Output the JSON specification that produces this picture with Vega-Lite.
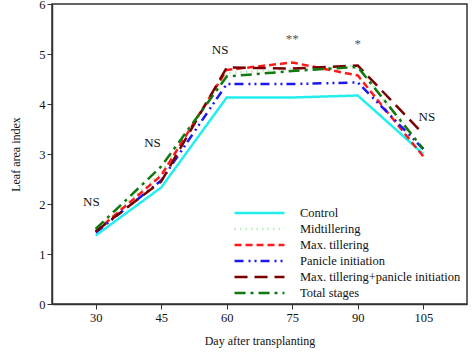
{
  "$schema": "https://vega.github.io/schema/vega-lite/v6.json",
  "width": 415,
  "height": 300,
  "autosize": "none",
  "padding": {"left": 52, "top": 4, "right": 5, "bottom": 54},
  "config": {
    "font": "Liberation Serif",
    "view": {"stroke": "#333333", "strokeWidth": 1.5},
    "axis": {"grid": false, "domainColor": "#333333", "tickColor": "#333333", "labelColor": "#111111", "titleColor": "#111111", "labelFont": "Liberation Serif", "titleFont": "Liberation Serif", "labelFontSize": 12.5, "titleFontSize": 12, "titleFontWeight": "normal", "tickSize": 5, "domainWidth": 1.5},
    "legend": {"labelFont": "Liberation Serif", "labelFontSize": 12.5, "labelColor": "#111111", "titleFont": "Liberation Serif", "labelLimit": 0}
  },
  "datasets": {
    "lines": [
      {"day": 30, "lai": 1.37, "treatment": "Control"},
      {"day": 45, "lai": 2.33, "treatment": "Control"},
      {"day": 60, "lai": 4.13, "treatment": "Control"},
      {"day": 75, "lai": 4.13, "treatment": "Control"},
      {"day": 90, "lai": 4.17, "treatment": "Control"},
      {"day": 105, "lai": 3.0, "treatment": "Control"},
      {"day": 30, "lai": 1.48, "treatment": "Midtillering"},
      {"day": 45, "lai": 2.62, "treatment": "Midtillering"},
      {"day": 60, "lai": 4.62, "treatment": "Midtillering"},
      {"day": 75, "lai": 4.7, "treatment": "Midtillering"},
      {"day": 90, "lai": 4.76, "treatment": "Midtillering"},
      {"day": 105, "lai": 3.05, "treatment": "Midtillering"},
      {"day": 30, "lai": 1.45, "treatment": "Max. tillering"},
      {"day": 45, "lai": 2.57, "treatment": "Max. tillering"},
      {"day": 60, "lai": 4.68, "treatment": "Max. tillering"},
      {"day": 75, "lai": 4.83, "treatment": "Max. tillering"},
      {"day": 90, "lai": 4.57, "treatment": "Max. tillering"},
      {"day": 105, "lai": 2.95, "treatment": "Max. tillering"},
      {"day": 30, "lai": 1.43, "treatment": "Panicle initiation"},
      {"day": 45, "lai": 2.47, "treatment": "Panicle initiation"},
      {"day": 60, "lai": 4.4, "treatment": "Panicle initiation"},
      {"day": 75, "lai": 4.4, "treatment": "Panicle initiation"},
      {"day": 90, "lai": 4.43, "treatment": "Panicle initiation"},
      {"day": 105, "lai": 3.1, "treatment": "Panicle initiation"},
      {"day": 30, "lai": 1.45, "treatment": "Max. tillering+panicle initiation"},
      {"day": 45, "lai": 2.45, "treatment": "Max. tillering+panicle initiation"},
      {"day": 60, "lai": 4.73, "treatment": "Max. tillering+panicle initiation"},
      {"day": 75, "lai": 4.71, "treatment": "Max. tillering+panicle initiation"},
      {"day": 90, "lai": 4.77, "treatment": "Max. tillering+panicle initiation"},
      {"day": 105, "lai": 3.4, "treatment": "Max. tillering+panicle initiation"},
      {"day": 30, "lai": 1.5, "treatment": "Total stages"},
      {"day": 45, "lai": 2.75, "treatment": "Total stages"},
      {"day": 60, "lai": 4.55, "treatment": "Total stages"},
      {"day": 75, "lai": 4.66, "treatment": "Total stages"},
      {"day": 90, "lai": 4.74, "treatment": "Total stages"},
      {"day": 105, "lai": 3.1, "treatment": "Total stages"}
    ],
    "notes": [
      {"day": 29, "lai": 2.04, "label": "NS", "kind": "ns"},
      {"day": 43, "lai": 3.22, "label": "NS", "kind": "ns"},
      {"day": 58.5, "lai": 5.08, "label": "NS", "kind": "ns"},
      {"day": 75, "lai": 5.3, "label": "**", "kind": "star"},
      {"day": 90, "lai": 5.2, "label": "*", "kind": "star"},
      {"day": 105.8, "lai": 3.74, "label": "NS", "kind": "ns"}
    ]
  },
  "layer": [
    {
      "data": {"name": "lines"},
      "mark": {"type": "line", "strokeWidth": 2.5},
      "encoding": {
        "x": {"field": "day", "type": "quantitative", "scale": {"domain": [20, 115], "nice": false, "zero": false}, "axis": {"values": [30, 45, 60, 75, 90, 105], "title": "Day after transplanting", "titlePadding": 12}},
        "y": {"field": "lai", "type": "quantitative", "scale": {"domain": [0, 6], "nice": false}, "axis": {"values": [0, 1, 2, 3, 4, 5, 6], "title": "Leaf area index", "titlePadding": 16}},
        "color": {
          "field": "treatment", "type": "nominal",
          "scale": {
            "domain": ["Control", "Midtillering", "Max. tillering", "Panicle initiation", "Max. tillering+panicle initiation", "Total stages"],
            "range": ["#22EEEE", "#B8EFB8", "#FF1A1A", "#1A1AEE", "#7A0000", "#107A10"]
          },
          "legend": {"title": null, "orient": "none", "legendX": 198.5, "legendY": 200, "padding": 0, "symbolType": "M-3.33,0H3.33", "symbolSize": 225, "symbolStrokeWidth": 2.5, "rowPadding": 0, "labelOffset": 31.5, "labelFont": "Liberation Serif", "labelLimit": 0}
        },
        "strokeDash": {
          "field": "treatment", "type": "nominal",
          "scale": {
            "domain": ["Control", "Midtillering", "Max. tillering", "Panicle initiation", "Max. tillering+panicle initiation", "Total stages"],
            "range": [[1, 0], [1.5, 4], [7, 4], [9, 5, 2, 4, 2, 4], [13, 7], [11, 5, 3, 5]]
          },
          "legend": {"title": null, "orient": "none", "legendX": 198.5, "legendY": 200, "padding": 0, "symbolType": "M-3.33,0H3.33", "symbolSize": 225, "symbolStrokeWidth": 2.5, "rowPadding": 0, "labelOffset": 31.5, "labelFont": "Liberation Serif", "labelLimit": 0}
        }
      }
    },
    {
      "data": {"name": "notes"},
      "mark": {"type": "text", "font": "Liberation Serif", "fontSize": 13, "color": "#111111"},
      "encoding": {
        "x": {"field": "day", "type": "quantitative"},
        "y": {"field": "lai", "type": "quantitative"},
        "text": {"field": "label"},
        "color": {"condition": {"test": "datum.kind === 'star'", "value": "#555555"}, "value": "#111111"}
      }
    }
  ]
}
